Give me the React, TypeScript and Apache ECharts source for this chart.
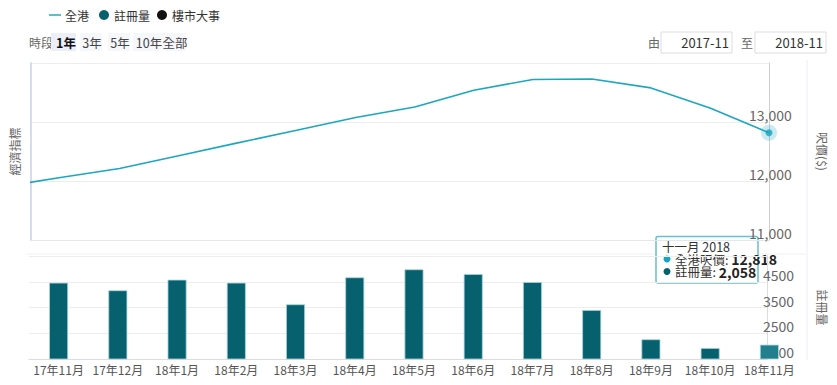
import React, { useEffect, useRef } from "react";
import * as echarts from "echarts";

const months = ["17年11月", "17年12月", "18年1月", "18年2月", "18年3月", "18年4月", "18年5月", "18年6月", "18年7月", "18年8月", "18年9月", "18年10月", "18年11月"];
// price line starts one month earlier (17年10月), partly clipped at the left edge
const priceValues = [11900, 12058, 12213, 12429, 12646, 12859, 13075, 13255, 13539, 13720, 13730, 13578, 13238, 12818];
const regValues = [4463, 4168, 4580, 4463, 3624, 4672, 4983, 4801, 4490, 3403, 2265, 1927, 2058];
const priceTicks = [11000, 14000, 1000];
const regTicks = [1500, 5500, 1000];
const periodLabels = ["1年", "3年", "5年", "10年", "全部"];
const legendLabels = ["全港", "註冊量", "樓市大事"];
const fromLabel = "2017-11";
const toLabel = "2018-11";
const tipTitle = "十一月 2018";

const FONT = "'Noto Sans CJK TC', 'Noto Sans', sans-serif";
const LINE_C = "#1ca7bf";
const BAR_C = "#07606e";

const fmt = (v: number) => v.toLocaleString("en-US");

export default function App() {
  const ref = useRef<HTMLDivElement>(null);
  useEffect(() => {
    if (!ref.current) return;
    const chart = echarts.init(ref.current, undefined, { renderer: "svg" });
    const last = months.length - 1;
    const lastPrice = priceValues[priceValues.length - 1];
    const lastReg = regValues[regValues.length - 1];

    const periodBg = [[51, 25], [80, 22], [108, 22], [133, 28], [162, 24]];
    const periodCx = [66, 92, 120, 149, 175];
    const graphic: any[] = [
      // legend
      { type: "line", shape: { x1: 49, y1: 15, x2: 61, y2: 15 }, style: { stroke: "#5bbfcc", lineWidth: 2 } },
      { type: "text", x: 65, y: 15, style: { text: legendLabels[0], font: `12px ${FONT}`, fill: "#333", verticalAlign: "middle" } },
      { type: "circle", shape: { cx: 104, cy: 15, r: 5 }, style: { fill: BAR_C } },
      { type: "text", x: 114, y: 15, style: { text: legendLabels[1], font: `12px ${FONT}`, fill: "#333", verticalAlign: "middle" } },
      { type: "circle", shape: { cx: 162, cy: 15, r: 5 }, style: { fill: "#111" } },
      { type: "text", x: 172, y: 15, style: { text: legendLabels[2], font: `12px ${FONT}`, fill: "#333", verticalAlign: "middle" } },
      // period selector
      { type: "text", x: 29, y: 42, style: { text: "時段", font: `12px ${FONT}`, fill: "#666", verticalAlign: "middle" } },
      ...periodLabels.flatMap((p, i) => [
        { type: "rect", shape: { x: periodBg[i][0], y: 33, width: periodBg[i][1], height: 18 }, style: { fill: i === 0 ? "#eceef8" : "#f6f7fa" } },
        { type: "text", x: periodCx[i], y: 42, style: { text: p, font: `${i === 0 ? "bold " : ""}12.5px ${FONT}`, fill: i === 0 ? "#111" : "#444", align: "center", verticalAlign: "middle" } },
      ]),
      // date range
      { type: "text", x: 648, y: 42, style: { text: "由", font: `12px ${FONT}`, fill: "#666", verticalAlign: "middle" } },
      { type: "rect", shape: { x: 661, y: 32, width: 71, height: 21 }, style: { fill: "#fff", stroke: "#ddd", lineWidth: 1 } },
      { type: "text", x: 729, y: 42.5, style: { text: fromLabel, font: `13px ${FONT}`, fill: "#333", align: "right", verticalAlign: "middle" } },
      { type: "text", x: 741, y: 42, style: { text: "至", font: `12px ${FONT}`, fill: "#666", verticalAlign: "middle" } },
      { type: "rect", shape: { x: 755, y: 32, width: 71, height: 21 }, style: { fill: "#fff", stroke: "#ddd", lineWidth: 1 } },
      { type: "text", x: 823, y: 42.5, style: { text: toLabel, font: `13px ${FONT}`, fill: "#333", align: "right", verticalAlign: "middle" } },
      // frame lines
      { type: "line", shape: { x1: 807, y1: 60, x2: 807, y2: 360 }, style: { stroke: "#eceef3", lineWidth: 1 } },
      { type: "line", shape: { x1: 27, y1: 254, x2: 807, y2: 254 }, style: { stroke: "#f0f1f6", lineWidth: 1 } },
      // tooltip
      {
        type: "group", z: 100, children: [
          { type: "rect", shape: { x: 656, y: 236.5, width: 102, height: 46.5, r: 2 }, style: { fill: "rgba(255,255,255,0.92)", stroke: "#68c0cd", lineWidth: 1.5 } },
          { type: "text", x: 662, y: 246, style: { text: tipTitle, font: `12.5px ${FONT}`, fill: "#333", verticalAlign: "middle" } },
          { type: "circle", shape: { cx: 667, cy: 259, r: 3.5 }, style: { fill: "#18a4c2" } },
          { type: "text", x: 675, y: 259, style: { text: `{n|全港呎價: }{b|${fmt(lastPrice)}}`, verticalAlign: "middle", rich: { n: { font: `12.5px ${FONT}`, fill: "#333", lineHeight: 12 }, b: { font: `bold 14px ${FONT}`, fill: "#222", lineHeight: 12 } } } },
          { type: "circle", shape: { cx: 667, cy: 271.5, r: 3.5 }, style: { fill: BAR_C } },
          { type: "text", x: 675, y: 271.5, style: { text: `{n|註冊量: }{b|${fmt(lastReg)}}`, verticalAlign: "middle", rich: { n: { font: `12.5px ${FONT}`, fill: "#333", lineHeight: 12 }, b: { font: `bold 14px ${FONT}`, fill: "#222", lineHeight: 12 } } } },
        ],
      },
    ];

    chart.setOption({
      animation: false,
      textStyle: { fontFamily: FONT },
      grid: [
        { left: 29, right: 68, top: 63, height: 177 },
        { left: 29, right: 69, top: 256, height: 103 },
        { left: 29, right: 38, top: 256, height: 103 },
      ],
      xAxis: [
        { gridIndex: 0, type: "value", min: -0.5, max: last, axisLine: { show: true, onZero: false, lineStyle: { color: "#e4e7f2" } }, axisTick: { show: false }, axisLabel: { show: false }, splitLine: { show: false } },
        { gridIndex: 1, type: "value", min: -0.5, max: last, axisLine: { show: true, onZero: false, lineStyle: { color: "#dcdcdc" } }, axisTick: { show: false }, axisLabel: { show: false }, splitLine: { show: false } },
        { gridIndex: 2, type: "category", data: months, boundaryGap: true, axisLine: { show: false }, axisTick: { show: false }, splitLine: { show: false }, axisLabel: { color: "#555", fontSize: 12, margin: 4, interval: 0, fontFamily: FONT } },
      ],
      yAxis: [
        {
          gridIndex: 0, type: "value", position: "right", min: priceTicks[0], max: priceTicks[1], interval: priceTicks[2],
          axisLine: { show: true, onZero: false, lineStyle: { color: "#d0d0d0" } }, axisTick: { show: false },
          axisLabel: { margin: -20, verticalAlign: "bottom", showMaxLabel: false, color: "#666", fontSize: 14, fontFamily: FONT, formatter: (v: number) => fmt(v) },
          splitLine: { lineStyle: { color: "#ededed" } },
          name: "呎價($)", nameLocation: "middle", nameGap: 48, nameRotate: -90, nameTextStyle: { color: "#666", fontSize: 12, fontFamily: FONT },
        },
        {
          gridIndex: 0, type: "value", position: "left", min: priceTicks[0], max: priceTicks[1],
          axisLine: { show: true, onZero: false, lineStyle: { color: "#d6dcf0", width: 2 } }, axisTick: { show: false }, axisLabel: { show: false }, splitLine: { show: false },
          name: "經濟指標", nameLocation: "middle", nameGap: 11, nameRotate: 90, nameTextStyle: { color: "#666", fontSize: 12, fontFamily: FONT },
        },
        {
          gridIndex: 1, type: "value", position: "right", min: regTicks[0], max: regTicks[1], interval: regTicks[2],
          axisLine: { show: true, onZero: false, lineStyle: { color: "#dcdcdc" } }, axisTick: { show: false },
          axisLabel: { margin: -4, verticalAlign: "bottom", showMaxLabel: false, color: "#666", fontSize: 14, fontFamily: FONT, formatter: (v: number) => String(v) },
          splitLine: { lineStyle: { color: "#ededed" } },
          name: "註冊量", nameLocation: "middle", nameGap: 50, nameRotate: -90, nameTextStyle: { color: "#666", fontSize: 12, fontFamily: FONT },
        },
        { gridIndex: 2, type: "value", min: regTicks[0], max: regTicks[1], show: false, splitLine: { show: false } },
      ],
      series: [
        {
          type: "line", xAxisIndex: 0, yAxisIndex: 0, clip: true, symbol: "none",
          data: priceValues.map((v, i) => [i - 1, v]),
          lineStyle: { color: LINE_C, width: 1.6 },
        },
        {
          type: "scatter", xAxisIndex: 0, yAxisIndex: 0, clip: false, symbolSize: 16, z: 5,
          data: [[last, lastPrice]], itemStyle: { color: "rgba(28,167,191,0.3)" },
        },
        {
          type: "scatter", xAxisIndex: 0, yAxisIndex: 0, clip: false, symbolSize: 7, z: 6,
          data: [[last, lastPrice]], itemStyle: { color: "#17a2bb" },
        },
        {
          type: "bar", xAxisIndex: 2, yAxisIndex: 3, barWidth: 19,
          data: regValues.map((v, i) => (i === last ? { value: v, itemStyle: { color: "#22808e" } } : v)),
          itemStyle: { color: BAR_C, borderColor: "#a9d6de", borderWidth: 0.8 },
        },
      ],
      graphic,
    });
    return () => chart.dispose();
  }, []);
  return <div ref={ref} style={{ position: "fixed", left: 0, top: 0, width: 837, height: 385, background: "#fff" }} />;
}
